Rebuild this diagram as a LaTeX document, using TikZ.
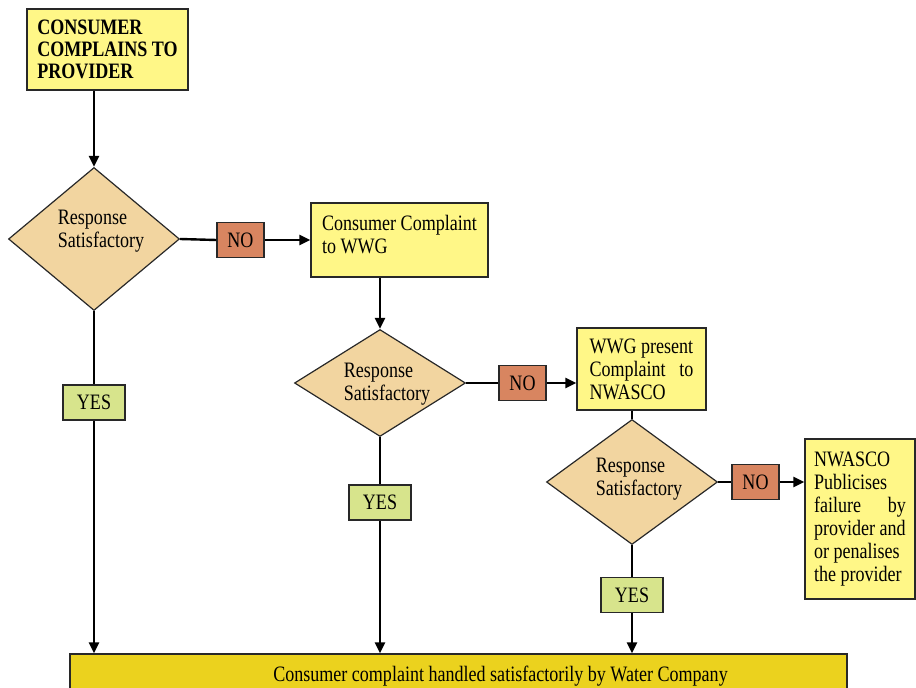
\documentclass[tikz,border=0pt]{standalone}
\usepackage{fontspec}
\setmainfont{Liberation Serif}[FakeStretch=0.82]
\usetikzlibrary{shapes.geometric,arrows.meta}
\definecolor{boxyellow}{RGB}{255,247,135}
\definecolor{diafill}{RGB}{242,213,160}
\definecolor{nofill}{RGB}{216,133,96}
\definecolor{yesfill}{RGB}{215,228,140}
\definecolor{botfill}{RGB}{235,210,30}
\definecolor{edge}{RGB}{40,40,40}
\tikzset{
  txtfont/.style={font=\fontsize{22}{23}\selectfont},
  infobox/.style={draw=edge, line width=1.2pt, fill=boxyellow, rectangle, txtfont, align=left, inner xsep=8pt, inner ysep=4pt},
  decision/.style={draw=edge, line width=1.2pt, fill=diafill, diamond, inner sep=0pt},
  dtext/.style={txtfont, align=left, inner sep=0pt},
  nobox/.style={draw=edge, line width=1.2pt, fill=nofill, rectangle, txtfont, minimum width=47pt, minimum height=35pt, inner sep=0pt},
  yesbox/.style={draw=edge, line width=1.2pt, fill=yesfill, rectangle, txtfont, minimum width=62pt, minimum height=35pt, inner sep=0pt},
  conn/.style={line width=2.4pt, draw=black},
  arr/.style={conn, -{Triangle[length=11pt,width=10pt]}},
}
\begin{document}
\begin{tikzpicture}[x=1pt,y=-1pt]
\useasboundingbox (0,0) rectangle (916,688);
\clip (0,0) rectangle (916,688);

% boxes
\node[infobox, minimum width=161pt, minimum height=81pt, font=\bfseries\fontsize{22}{22}\selectfont] (b1) at (107.5,49.5) {CONSUMER\\COMPLAINS TO\\PROVIDER};
\node[infobox, minimum width=177pt, minimum height=74pt] (b2) at (399.5,240) {Consumer Complaint\\to WWG\\[-12pt]\mbox{}};
\node[infobox, minimum width=129pt, minimum height=82pt] (b3) at (641.5,369) {WWG present\\\makebox[104pt][s]{Complaint to}\\NWASCO};
\node[infobox, minimum width=110pt, minimum height=160pt] (b4) at (860,519) {NWASCO\\Publicises\\\makebox[92pt][s]{failure by}\\provider and\\or penalises\\the provider};

% decisions
\node[decision, minimum width=171pt, minimum height=143pt] (d1) at (94,239) {};
\node[dtext] (d1t) at (101,231) {Response\\Satisfactory};
\node[decision, minimum width=171pt, minimum height=107pt] (d2) at (380,383) {};
\node[dtext] (d2t) at (387,384) {Response\\Satisfactory};
\node[decision, minimum width=171pt, minimum height=125pt] (d3) at (632,482) {};
\node[dtext] (d3t) at (639,479) {Response\\Satisfactory};

% NO / YES
\node[nobox] (n1) at (240.5,240) {NO};
\node[nobox] (n2) at (522.5,383) {NO};
\node[nobox] (n3) at (755.5,482) {NO};
\node[yesbox] (y1) at (94,402.5) {YES};
\node[yesbox] (y2) at (380,502.5) {YES};
\node[yesbox] (y3) at (632,595) {YES};

% bottom box
\node[draw=edge, line width=1.2pt, fill=botfill, rectangle, txtfont, minimum width=777pt, minimum height=44pt, inner sep=0pt] (bot) at (458.5,676) {\hspace*{84pt}Consumer complaint handled satisfactorily by Water Company\\[-4pt]};

% connectors
\draw[arr] (d1.north |- b1.south) -- (d1.north);
\draw[conn] (d1.east) -- (n1.west);
\draw[arr] (n1.east) -- (n1.east -| b2.west);
\draw[arr] (d2.north |- b2.south) -- (d2.north);
\draw[conn] (d2.east) -- (n2.west);
\draw[arr] (n2.east) -- (n2.east -| b3.west);
\draw[conn] (d3.north |- b3.south) -- (d3.north);
\draw[conn] (d3.east) -- (n3.west);
\draw[arr] (n3.east) -- (n3.east -| b4.west);
\draw[conn] (d1.south) -- (y1.north);
\draw[arr] (y1.south) -- (y1.south |- bot.north);
\draw[conn] (d2.south) -- (y2.north);
\draw[arr] (y2.south) -- (y2.south |- bot.north);
\draw[conn] (d3.south) -- (y3.north);
\draw[arr] (y3.south) -- (y3.south |- bot.north);
\end{tikzpicture}
\end{document}
